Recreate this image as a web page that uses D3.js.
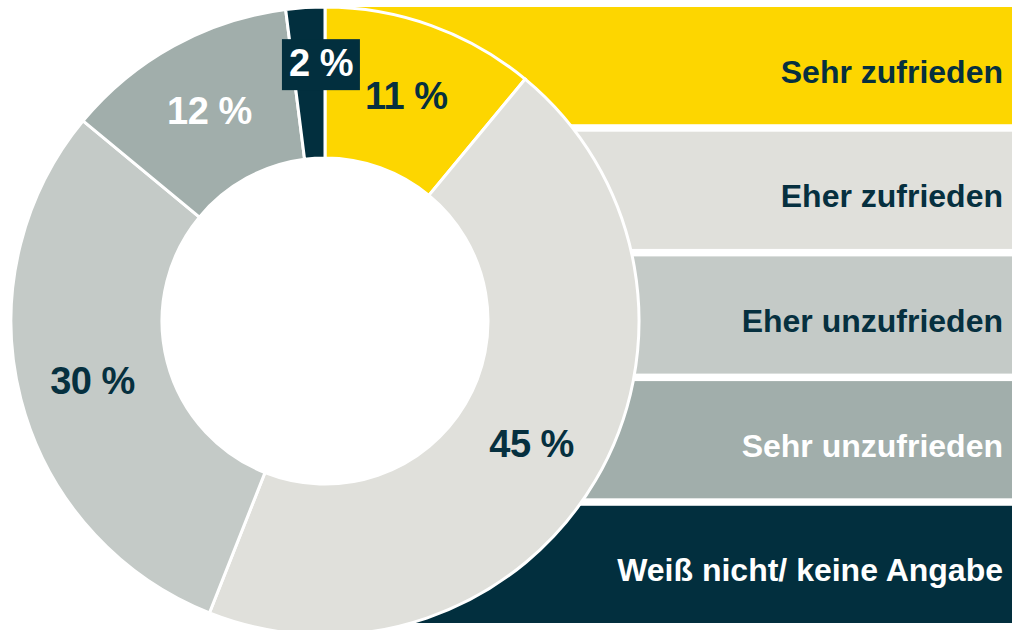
<!DOCTYPE html>
<html>
<head>
<meta charset="utf-8">
<script src="https://cdn.jsdelivr.net/npm/d3@7"></script>
<style>
  body { margin: 0; background: #fff; }
  text { font-family: "Liberation Sans", Arial, sans-serif; font-weight: bold; }
</style>
</head>
<body>
<div id="chart"></div>
<script>
// Zufriedenheit (Anteile in %)
var categories = ["Sehr zufrieden", "Eher zufrieden", "Eher unzufrieden", "Sehr unzufrieden", "Weiß nicht/ keine Angabe"];
var values = [11, 45, 30, 12, 2];
var colors = ["#FDD600", "#E0E0DB", "#C4CAC7", "#A1AEAB", "#022F3E"];
var textColors = ["#06303F", "#06303F", "#06303F", "#FFFFFF", "#FFFFFF"];

var svgWidth = 1012;
var svgHeight = 630;

var cx = 325, cy = 321;
var outerR = 314, innerR = 163;

var svg = d3.select("#chart")
    .append("svg")
    .attr("width", svgWidth)
    .attr("height", svgHeight);

var data = categories.map(function(c, i) {
    return { name: c, value: values[i], color: colors[i], textColor: textColors[i] };
});

// Legend bars sit behind the donut
var yBand = d3.scaleBand()
    .domain(categories)
    .range([7, 623])
    .paddingInner(0.06);

var legend = svg.append("g");

legend.selectAll("rect")
    .data(data)
    .enter()
    .append("rect")
    .attr("x", cx)
    .attr("y", d => yBand(d.name))
    .attr("width", svgWidth - cx)
    .attr("height", yBand.bandwidth())
    .attr("fill", d => d.color);

legend.selectAll("text")
    .data(data)
    .enter()
    .append("text")
    .attr("x", 1003)
    .attr("y", d => yBand(d.name) + yBand.bandwidth() / 2 + 17)
    .attr("text-anchor", "end")
    .style("font-size", "32px")
    .style("fill", d => d.textColor)
    .text(d => d.name);

// Donut
var pie = d3.pie()
    .value(d => d.value)
    .sort(null);

var arc = d3.arc()
    .innerRadius(innerR)
    .outerRadius(outerR);

var labelArc = d3.arc()
    .innerRadius(240)
    .outerRadius(240);

var chartGroup = svg.append("g")
    .attr("transform", `translate(${cx}, ${cy})`);

// white hole so the bars don't show through
chartGroup.append("circle")
    .attr("r", innerR)
    .attr("fill", "#fff");

var arcs = pie(data);

chartGroup.selectAll("path")
    .data(arcs)
    .enter()
    .append("path")
    .attr("d", arc)
    .attr("fill", d => d.data.color)
    .attr("stroke", "#fff")
    .attr("stroke-width", 3);

// percentage labels
var labels = chartGroup.selectAll("g.label")
    .data(arcs)
    .enter()
    .append("g")
    .attr("class", "label")
    .attr("transform", function(d) {
        var c = labelArc.centroid(d);
        if (d.data.value < 5) {
            // small slice: label pulled up and centred on the top
            c = [c[0] + 11, c[1] - 19];
        }
        return `translate(${c[0]}, ${c[1]})`;
    });

labels.append("text")
    .attr("text-anchor", "middle")
    .attr("dy", "0.36em")
    .style("font-size", "38px")
    .style("letter-spacing", "-0.5px")
    .style("fill", d => d.data.textColor)
    .text(d => d.data.value + " %");

// box behind the small slice label
labels.filter(d => d.data.value < 5).each(function() {
    var g = d3.select(this);
    var bb = g.select("text").node().getBBox();
    g.insert("rect", "text")
        .attr("x", bb.x - 7)
        .attr("y", bb.y - 3)
        .attr("width", bb.width + 14)
        .attr("height", bb.height + 9)
        .attr("fill", colors[colors.length - 1]);
});
</script>
</body>
</html>
